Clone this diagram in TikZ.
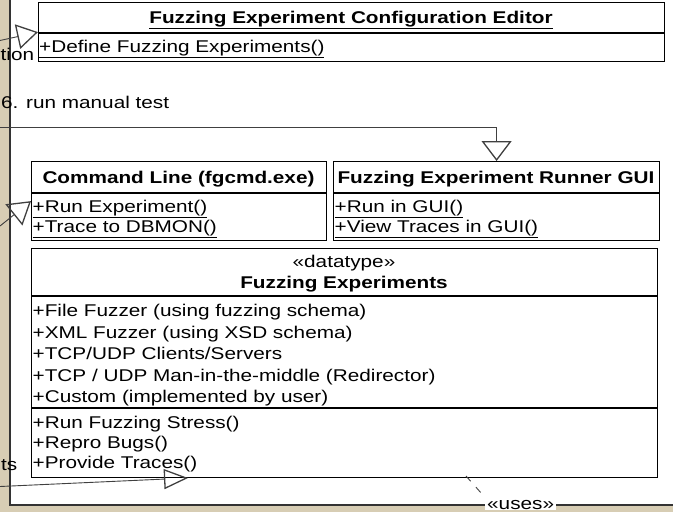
\documentclass[tikz,border=0pt]{standalone}
\usepackage{fontspec}
\setmainfont{Liberation Sans}[FakeStretch=1.22]
\usetikzlibrary{arrows.meta}
\definecolor{parch}{HTML}{D7CDB4}
\definecolor{framec}{HTML}{333333}
\definecolor{connc}{HTML}{404040}
\begin{document}
\begin{tikzpicture}[x=1pt,y=-1pt,
  font=\fontsize{17}{20}\selectfont,
  umlbox/.style={draw=black, line width=1.2pt, fill=white, inner sep=0pt, anchor=north west},
  sepline/.style={draw=black, line width=1.2pt},
  txt/.style={inner sep=0pt, anchor=base west},
  ctxt/.style={inner sep=0pt, anchor=base},
  gen/.style={draw=connc, line width=0.9pt},
]
\useasboundingbox (0,0) rectangle (673,512);
\clip (0,0) rectangle (673,512);
\fill[parch] (0,0) rectangle (673,512);
\fill[white] (10,0) rectangle (673,505);
\draw[framec, line width=1.6pt] (10,-2) -- (10,505) -- (675,505);

% boxes
\node[umlbox, minimum width=626pt, minimum height=59pt] (cfg) at (38,2) {};
\draw[sepline] (38,33) -- (664,33);
\node[ctxt] (cfgt) at (351,23) {\bfseries\underline{Fuzzing Experiment Configuration Editor}};
\node[txt] (cfgm) at (39,52) {\underline{+Define Fuzzing Experiments()}};

\node[umlbox, minimum width=295pt, minimum height=79pt] (cmd) at (31,161) {};
\draw[sepline] (31,193) -- (326,193);
\node[ctxt] (cmdt) at (178.5,183.5) {\bfseries Command Line (fgcmd.exe)};
\node[txt] (cmdm1) at (32.5,212.5) {\underline{+Run Experiment()}};
\node[txt] (cmdm2) at (32.5,232) {\underline{+Trace to DBMON()}};

\node[umlbox, minimum width=326pt, minimum height=79pt] (gui) at (333,161) {};
\draw[sepline] (333,193) -- (659,193);
\node[ctxt] (guit) at (496,183.5) {\bfseries Fuzzing Experiment Runner GUI};
\node[txt] (guim1) at (334.5,212.5) {\underline{+Run in GUI()}};
\node[txt] (guim2) at (334.5,232) {\underline{+View Traces in GUI()}};

\node[umlbox, minimum width=626pt, minimum height=229pt] (fe) at (31,248) {};
\draw[sepline] (31,296) -- (657,296);
\draw[sepline] (31,408) -- (657,408);
\node[ctxt] (fest) at (344,267) {«datatype»};
\node[ctxt] (fet) at (344,288) {\bfseries Fuzzing Experiments};
\node[txt] (fea1) at (32.5,316.5) {+File Fuzzer (using fuzzing schema)};
\node[txt] (fea2) at (32.5,338) {+XML Fuzzer (using XSD schema)};
\node[txt] (fea3) at (32.5,359.5) {+TCP/UDP Clients/Servers};
\node[txt] (fea4) at (32.5,381) {+TCP / UDP Man-in-the-middle (Redirector)};
\node[txt] (fea5) at (32.5,402.5) {+Custom (implemented by user)};
\node[txt] (fem1) at (32.5,428.5) {+Run Fuzzing Stress()};
\node[txt] (fem2) at (32.5,448.5) {+Repro Bugs()};
\node[txt] (fem3) at (32.5,468.5) {+Provide Traces()};

% labels
\node[inner sep=0pt, anchor=base west] (ltion) at (0.5,60) {tion};
\node[inner sep=0pt, anchor=base west] (lrun) at (1,108.5) {6. run manual test};
\node[inner sep=0pt, anchor=base west] (lts) at (1,470) {ts};
\node[fill=white, inner xsep=2pt, inner ysep=1pt, anchor=base west] (uses) at (485,509) {«uses»};

% connectors
\coordinate (t1) at (0,40.5);
\coordinate (t2) at (0,226);
\coordinate (t4) at (0,127);
\coordinate (t3) at (0,486.5);
\coordinate (t3e) at (188,478);
\coordinate (u1) at (466,476);
\coordinate (u2) at (482,494);
\draw[gen, -{Triangle[open, length=21pt, width=25pt, line width=1.3pt]}] (t1) -- (cfg.west);
\draw[gen, -{Triangle[open, length=22pt, width=27pt, line width=1.3pt]}] (t2) -- (cmd.west);
\draw[gen, -{Triangle[open, length=20pt, width=30pt, line width=1.3pt]}] (t4) -| (gui.north);
\draw[gen, -{Triangle[open, length=24pt, width=20pt, line width=1.3pt]}] (t3) -- (t3e);
\draw[gen, dash pattern=on 7pt off 8pt] (u1) -- (u2);
\end{tikzpicture}
\end{document}
